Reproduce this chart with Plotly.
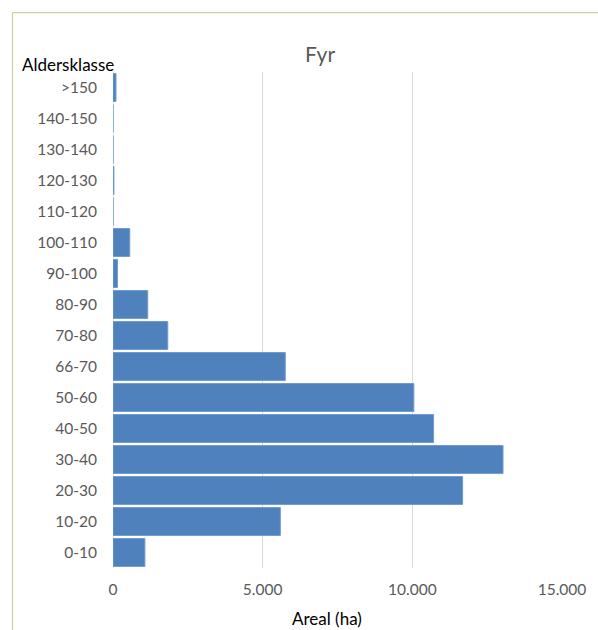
import plotly.graph_objects as go

categories = ["0-10", "10-20", "20-30", "30-40", "40-50", "50-60", "66-70", "70-80",
              "80-90", "90-100", "100-110", "110-120", "120-130", "130-140", "140-150", ">150"]
areal = [1065, 5590, 11680, 13030, 10710, 10050, 5755, 1830,
         1160, 150, 560, 0, 30, 0, 0, 100]
x_ticks = [0, 5000, 10000, 15000]
x_tick_labels = ["0", "5.000", "10.000", "15.000"]

W, H = 598, 630
L, R, T, B = 113, 34, 71.5, 61.5
pw, ph = W - L - R, H - T - B

def px_x(p):
    return (p - L) / pw

def px_y(p):
    return (H - B - p) / ph

FONT = "Lato, 'Open Sans', sans-serif"

fig = go.Figure(go.Bar(
    x=areal, y=categories, orientation="h",
    marker=dict(color="#4f81bd", line=dict(color="#6f9bd0", width=1)),
))

fig.update_layout(
    width=W, height=H,
    margin=dict(l=L, r=R, t=T, b=B),
    paper_bgcolor="white", plot_bgcolor="white",
    bargap=0.1,
    showlegend=False,
    font=dict(family=FONT, size=15.5, color="#595959"),
    title=dict(text="Fyr", x=px_x(321), xref="paper", y=1 - 55 / H, yanchor="middle",
               xanchor="center", font=dict(size=21, color="#595959", family=FONT)),
    xaxis=dict(range=[0, 15000], tickvals=x_ticks, ticktext=x_tick_labels,
               showgrid=True, gridcolor="#d9d9d9", gridwidth=1, zeroline=False,
               showline=False, ticks="", ticklen=0, ticklabelstandoff=10,
               tickfont=dict(size=15.5, color="#595959")),
    yaxis=dict(categoryorder="array", categoryarray=categories,
               showgrid=False, zeroline=False, showline=False, ticks="",
               ticklabelstandoff=15,
               tickfont=dict(size=15.5, color="#595959")),
    annotations=[
        dict(text="Aldersklasse", xref="paper", yref="paper", x=px_x(20), y=px_y(64),
             xanchor="left", yanchor="middle", showarrow=False,
             font=dict(size=17, color="#000000", family=FONT)),
        dict(text="Areal (ha)", xref="paper", yref="paper", x=px_x(328), y=px_y(619),
             xanchor="center", yanchor="middle", showarrow=False,
             font=dict(size=17, color="#000000", family=FONT)),
    ],
    shapes=[
        dict(type="line", xref="paper", yref="paper", x0=px_x(12), x1=px_x(W + 5),
             y0=px_y(12), y1=px_y(12), line=dict(color="#c4d79b", width=1.2)),
        dict(type="line", xref="paper", yref="paper", x0=px_x(12), x1=px_x(12),
             y0=px_y(12), y1=px_y(H + 5), line=dict(color="#c4d79b", width=1.2)),
        dict(type="line", xref="x", yref="paper", x0=0, x1=0, y0=0, y1=1,
             line=dict(color="#d9d9d9", width=1), layer="below"),
    ],
)

fig.write_html("out.html")
